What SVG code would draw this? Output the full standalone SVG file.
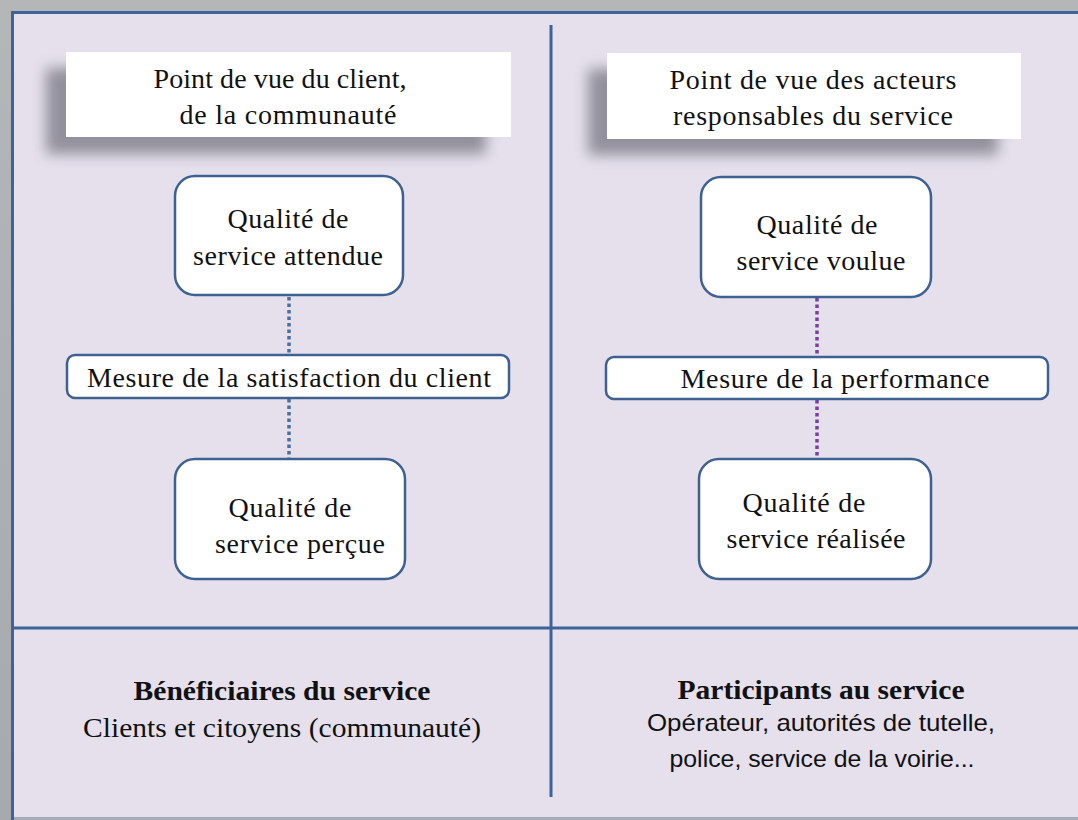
<svg xmlns="http://www.w3.org/2000/svg" width="1078" height="820" viewBox="0 0 1078 820">
<defs>
<filter id="shadow" x="-20%" y="-50%" width="140%" height="200%">
<feGaussianBlur stdDeviation="7"/>
</filter>
<linearGradient id="bg" x1="0" y1="0" x2="0" y2="1">
<stop offset="0" stop-color="#b4b6b8"/>
<stop offset="1" stop-color="#a6aaad"/>
</linearGradient>
</defs>
<style>
.frame{fill:#e5e0ec}
.line{stroke:#3d6499;stroke-width:3;fill:none}
.hdr{fill:#ffffff}
.shd{fill:#5c5c66;opacity:0.6}
.box{fill:#ffffff;stroke:#3e6192;stroke-width:2.5}
.t{font-family:"Liberation Serif","Times New Roman",serif;font-size:28px;fill:#111111;text-anchor:middle}
.h{font-size:28px}
.b{font-weight:bold}
.s{font-family:"Liberation Sans",Arial,sans-serif;font-size:24px;fill:#111111;text-anchor:middle}
.dotB{stroke:#4a6fa0;stroke-width:3.5;stroke-dasharray:3.5 3;fill:none}
.dotP{stroke:#7a3da8;stroke-width:3.5;stroke-dasharray:3.5 3;fill:none}
</style>
<rect x="0" y="0" width="1078" height="820" fill="url(#bg)"/>
<rect class="frame" x="12" y="12" width="1070" height="805"/>
<rect x="12" y="817" width="1066" height="3" fill="#a4acba"/>
<g id="frame-lines">
<path class="line" d="M12.5 820 V12.5 H1078"/>
<path class="line" d="M551 25 V797"/>
<path class="line" d="M12 628 H1078"/>
</g>
<g id="header-left">
<rect class="shd" x="46" y="68" width="440" height="86" filter="url(#shadow)"/>
<rect class="hdr" x="66" y="52" width="445" height="85"/>
<text class="t h" x="280" y="88" textLength="253" lengthAdjust="spacing">Point de vue du client,</text>
<text class="t h" x="288" y="124" textLength="217" lengthAdjust="spacing">de la communauté</text>
</g>
<g id="header-right">
<rect class="shd" x="588" y="69" width="410" height="86" filter="url(#shadow)"/>
<rect class="hdr" x="607" y="53" width="414" height="86"/>
<text class="t h" x="813" y="89" textLength="287" lengthAdjust="spacing">Point de vue des acteurs</text>
<text class="t h" x="813" y="125" textLength="280" lengthAdjust="spacing">responsables du service</text>
</g>
<g id="connectors">
<path class="dotB" d="M289 297 V355"/>
<path class="dotB" d="M289 399 V458"/>
<path class="dotP" d="M817 298 V357"/>
<path class="dotP" d="M817 400 V458"/>
</g>
<g id="q-attendue">
<rect class="box" x="175" y="176" width="228" height="119" rx="20"/>
<text class="t" x="288" y="228" textLength="121" lengthAdjust="spacing">Qualité de</text>
<text class="t" x="288" y="265" textLength="190" lengthAdjust="spacing">service attendue</text>
</g>
<g id="mesure-satisfaction">
<rect class="box" x="67" y="355" width="442" height="43" rx="8"/>
<text class="t" x="289" y="387" textLength="404" lengthAdjust="spacing">Mesure de la satisfaction du client</text>
</g>
<g id="q-percue">
<rect class="box" x="175" y="459" width="230" height="120" rx="20"/>
<text class="t" x="290" y="517" textLength="123" lengthAdjust="spacing">Qualité de</text>
<text class="t" x="300" y="553" textLength="170" lengthAdjust="spacing">service perçue</text>
</g>
<g id="q-voulue">
<rect class="box" x="701" y="177" width="230" height="120" rx="20"/>
<text class="t" x="817" y="234" textLength="121" lengthAdjust="spacing">Qualité de</text>
<text class="t" x="821" y="270" textLength="169" lengthAdjust="spacing">service voulue</text>
</g>
<g id="mesure-performance">
<rect class="box" x="606" y="357" width="442" height="42" rx="8"/>
<text class="t" x="835" y="388" textLength="309" lengthAdjust="spacing">Mesure de la performance</text>
</g>
<g id="q-realisee">
<rect class="box" x="699" y="459" width="232" height="120" rx="20"/>
<text class="t" x="804" y="512" textLength="123" lengthAdjust="spacing">Qualité de</text>
<text class="t" x="816" y="548" textLength="179" lengthAdjust="spacing">service réalisée</text>
</g>
<g id="beneficiaires">
<text class="t b" x="282" y="700" textLength="297" lengthAdjust="spacingAndGlyphs">Bénéficiaires du service</text>
<text class="t" x="282" y="737" textLength="398" lengthAdjust="spacingAndGlyphs">Clients et citoyens (communauté)</text>
</g>
<g id="participants">
<text class="t b" x="821" y="699" textLength="287" lengthAdjust="spacingAndGlyphs">Participants au service</text>
<text class="s" x="821" y="731" textLength="348" lengthAdjust="spacingAndGlyphs">Opérateur, autorités de tutelle,</text>
<text class="s" x="822" y="767" textLength="305" lengthAdjust="spacingAndGlyphs">police, service de la voirie...</text>
</g>
</svg>
